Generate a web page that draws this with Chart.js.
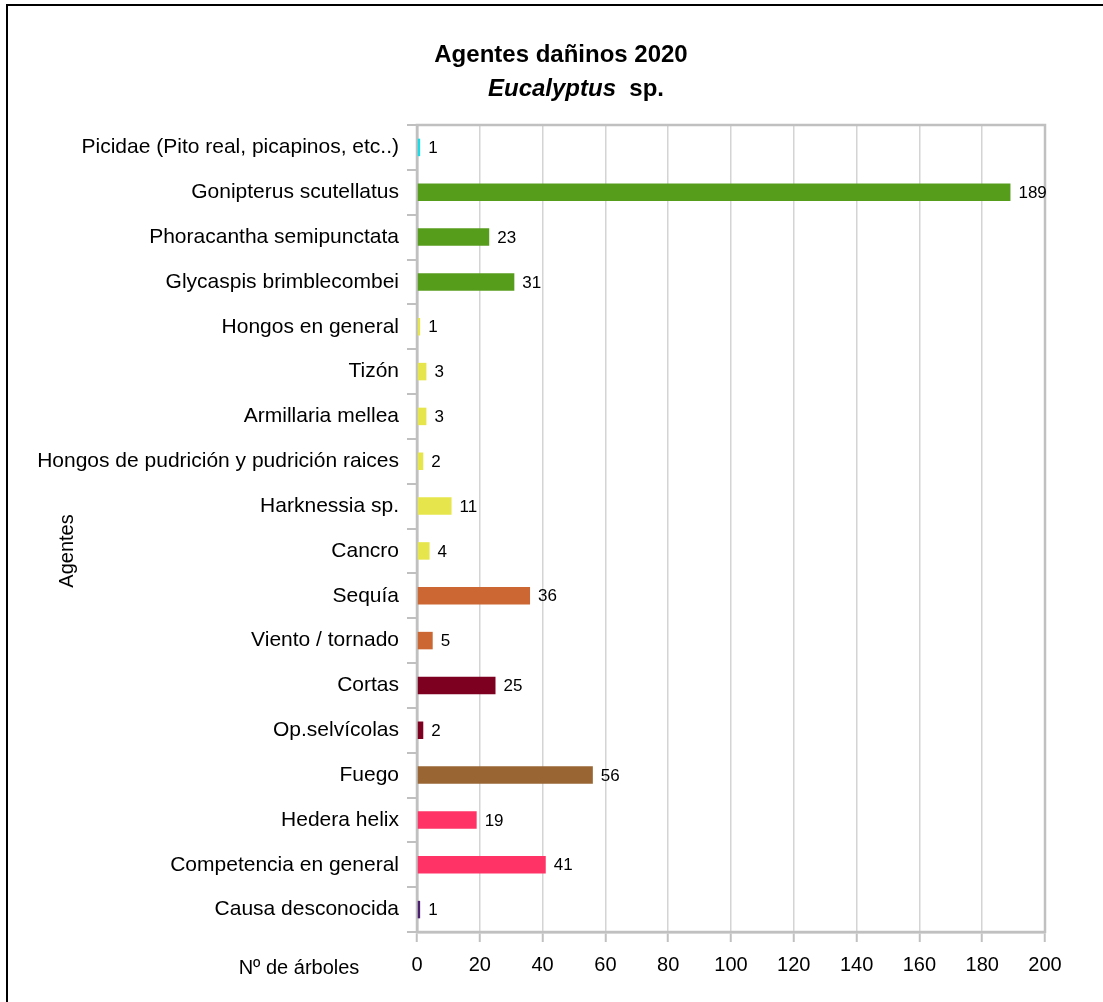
<!DOCTYPE html>
<html>
<head>
<meta charset="utf-8">
<script src="https://cdn.jsdelivr.net/npm/chart.js@4/dist/chart.umd.min.js"></script>
<style>
html,body{margin:0;padding:0;background:#fff;}
#wrap{position:relative;width:1103px;height:1002px;}
</style>
</head>
<body>
<div id="wrap"><canvas id="c" width="1103" height="1002"></canvas></div>
<script>
const categories = [
  'Picidae (Pito real, picapinos, etc..)',
  'Gonipterus scutellatus',
  'Phoracantha semipunctata',
  'Glycaspis brimblecombei',
  'Hongos en general',
  'Tizón',
  'Armillaria mellea',
  'Hongos de pudrición y pudrición raices',
  'Harknessia sp.',
  'Cancro',
  'Sequía',
  'Viento / tornado',
  'Cortas',
  'Op.selvícolas',
  'Fuego',
  'Hedera helix',
  'Competencia en general',
  'Causa desconocida'
];
const values = [1, 189, 23, 31, 1, 3, 3, 2, 11, 4, 36, 5, 25, 2, 56, 19, 41, 1];
const barColors = [
  '#1bdbe6',
  '#579d1c', '#579d1c', '#579d1c',
  '#e6e64c', '#e6e64c', '#e6e64c', '#e6e64c', '#e6e64c', '#e6e64c',
  '#cc6633', '#cc6633',
  '#7e0021', '#7e0021',
  '#996633',
  '#ff3366', '#ff3366',
  '#4b1f6f'
];
const xTicks = [0, 20, 40, 60, 80, 100, 120, 140, 160, 180, 200];
const titleLine1 = 'Agentes dañinos 2020';
const titleLine2Italic = 'Eucalyptus';
const titleLine2Rest = ' sp.';
const yAxisTitle = 'Agentes';
const xAxisTitle = 'Nº de árboles';

const FONT = "'Liberation Sans', Arial, sans-serif";

const decor = {
  id: 'decor',
  beforeDraw(chart) {
    const ctx = chart.ctx;
    ctx.save();
    ctx.fillStyle = '#fff';
    ctx.fillRect(0, 0, chart.width, chart.height);
    ctx.fillStyle = '#000';
    ctx.fillRect(6, 4, chart.width - 6, 2);
    ctx.fillRect(6, 4, 2, chart.height - 4);
    ctx.restore();
  },
  beforeDatasetsDraw(chart) {
    const ctx = chart.ctx;
    const a = chart.chartArea;
    ctx.save();
    ctx.strokeStyle = '#c0c0c0';
    ctx.lineWidth = 2.5;
    ctx.strokeRect(a.left, a.top, a.right - a.left, a.bottom - a.top);
    ctx.restore();
  },
  afterDatasetsDraw(chart) {
    const ctx = chart.ctx;
    ctx.save();
    // data labels
    ctx.fillStyle = '#000';
    ctx.font = '17px ' + FONT;
    ctx.textAlign = 'left';
    ctx.textBaseline = 'middle';
    const meta = chart.getDatasetMeta(0);
    meta.data.forEach((bar, i) => {
      ctx.fillText(String(values[i]), bar.x + 8, bar.y + 1);
    });
    // title
    ctx.textAlign = 'center';
    ctx.font = 'bold 24px ' + FONT;
    ctx.fillText(titleLine1, 561, 55);
    const fi = 'italic bold 24px ' + FONT;
    const fb = 'bold 24px ' + FONT;
    ctx.font = fi; const w1 = ctx.measureText(titleLine2Italic).width;
    ctx.font = fb; const w2 = ctx.measureText(titleLine2Rest + ' ').width;
    let x0 = 576 - (w1 + w2) / 2;
    ctx.textAlign = 'left';
    ctx.font = fi; ctx.fillText(titleLine2Italic, x0, 89);
    ctx.font = fb; ctx.fillText(' ' + titleLine2Rest, x0 + w1, 89);
    // axis titles
    ctx.font = '20px ' + FONT;
    ctx.textAlign = 'center';
    ctx.fillText(xAxisTitle, 299, 968);
    ctx.translate(67, 551);
    ctx.rotate(-Math.PI / 2);
    ctx.fillText(yAxisTitle, 0, 0);
    ctx.restore();
  }
};

new Chart(document.getElementById('c'), {
  type: 'bar',
  data: {
    labels: categories,
    datasets: [{
      data: values,
      backgroundColor: barColors,
      borderWidth: 0,
      barPercentage: 0.39,
      categoryPercentage: 1
    }]
  },
  options: {
    indexAxis: 'y',
    responsive: false,
    animation: false,
    devicePixelRatio: 1,
    layout: { padding: { top: 125, right: 58, left: 0, bottom: 0 } },
    plugins: { legend: { display: false }, tooltip: { enabled: false }, title: { display: false } },
    scales: {
      x: {
        type: 'linear',
        min: 0,
        max: 200,
        afterBuildTicks(scale) { scale.ticks = xTicks.map(v => ({ value: v })); },
        afterFit(scale) { scale.height = 70; },
        ticks: {
          color: '#000',
          font: { family: FONT, size: 20 },
          padding: 11,
          maxRotation: 0
        },
        grid: { color: '#d4d4d4', lineWidth: 1.5, tickLength: 10, tickColor: '#c0c0c0', tickWidth: 2 },
        border: { display: true, color: '#c0c0c0', width: 2.5 }
      },
      y: {
        afterFit(scale) { scale.width = 417; },
        ticks: {
          color: '#000',
          font: { family: FONT, size: 21 },
          padding: 8,
          autoSkip: false
        },
        grid: { offset: true, drawOnChartArea: false, tickLength: 10, color: '#c0c0c0', lineWidth: 2 },
        border: { display: true, color: '#c0c0c0', width: 2.5 }
      }
    }
  },
  plugins: [decor]
});
</script>
</body>
</html>
